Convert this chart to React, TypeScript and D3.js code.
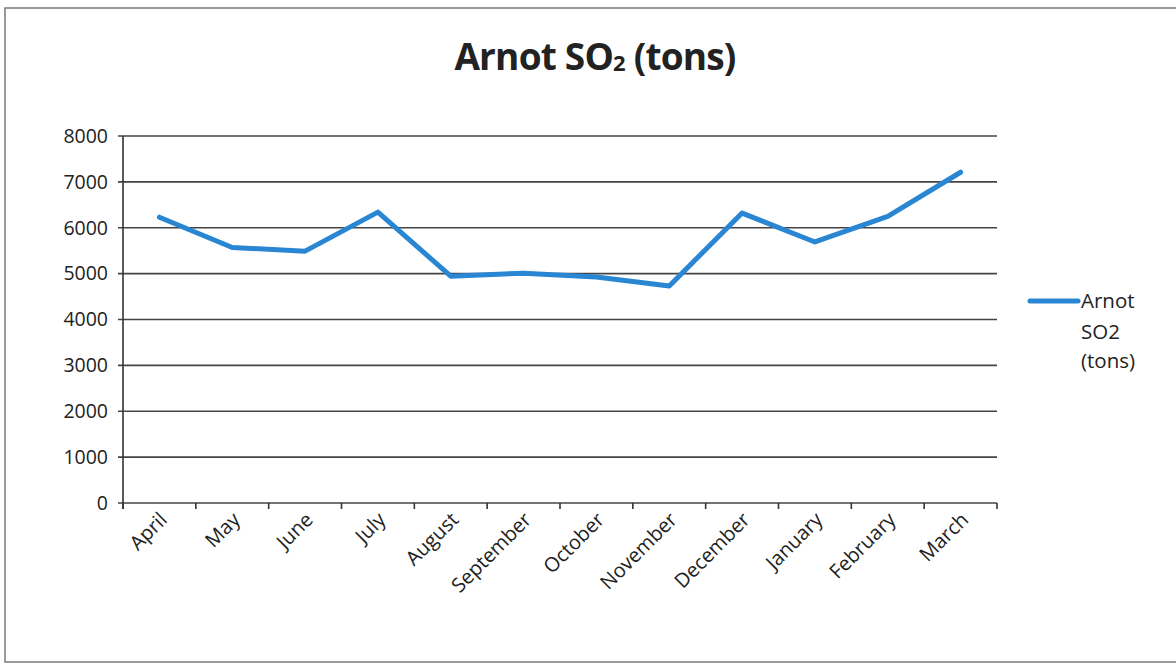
import React from 'react';
import * as d3 from 'd3';

const months = ['April', 'May', 'June', 'July', 'August', 'September', 'October', 'November', 'December', 'January', 'February', 'March'];
const so2Tons = [6230, 5570, 5490, 6340, 4945, 5010, 4925, 4730, 6320, 5690, 6250, 7210];
const yTicks = [0, 1000, 2000, 3000, 4000, 5000, 6000, 7000, 8000];

const W = 1176;
const H = 664;
const plot = { left: 123, right: 997, top: 136, bottom: 503 };
const lineColor = '#2886d2';
const gridColor = '#444';
const font = "'Open Sans', 'Noto Sans', sans-serif";

const App: React.FC = () => {
  const x = d3.scaleBand<string>().domain(months).range([plot.left, plot.right]);
  const y = d3.scaleLinear().domain([0, 8000]).range([plot.bottom, plot.top]);

  const line = d3.line<number>()
    .x((_, i) => (x(months[i]) ?? 0) + x.bandwidth() / 2)
    .y(d => y(d));

  const bounds = months.map(m => x(m) ?? 0).concat([plot.right]);

  return (
    <svg width={W} height={H} style={{ position: 'absolute', left: 0, top: 0, background: '#fff' }}>
      {/* frame */}
      <rect x={5} y={8} width={W + 2} height={654} fill="#fff" stroke="#7a7a7a" strokeWidth={1.5} />

      {/* title */}
      <text x={595} y={70} textAnchor="middle" fontFamily={font} fontWeight="bold" fontSize={37} fill="#222" letterSpacing={-0.8}>
        Arnot SO<tspan fontSize={22} dy={1}>2</tspan><tspan dy={-1}> (tons)</tspan>
      </text>

      {/* gridlines + y ticks */}
      {yTicks.map(t => (
        <g key={t}>
          <line x1={plot.left - 5} x2={plot.right} y1={y(t)} y2={y(t)} stroke={gridColor} strokeWidth={1.6} />
          <text x={108} y={y(t)} dy="0.35em" textAnchor="end" fontFamily={font} fontSize={19.5} fill="#222">{t}</text>
        </g>
      ))}

      {/* y axis */}
      <line x1={plot.left} x2={plot.left} y1={plot.top} y2={plot.bottom + 6} stroke="#333" strokeWidth={1.6} />

      {/* x ticks */}
      {bounds.map((b, i) => (
        <line key={i} x1={b} x2={b} y1={plot.bottom} y2={plot.bottom + 6} stroke="#333" strokeWidth={1.6} />
      ))}

      {/* x labels */}
      {months.map(m => {
        const cx = (x(m) ?? 0) + x.bandwidth() / 2 + 9;
        const cy = plot.bottom + 18;
        return (
          <text key={m} x={cx} y={cy} transform={`rotate(-45 ${cx} ${cy})`} textAnchor="end" fontFamily={font} fontSize={20} fill="#222">
            {m}
          </text>
        );
      })}

      {/* series */}
      <path d={line(so2Tons) ?? ''} fill="none" stroke={lineColor} strokeWidth={5} strokeLinejoin="round" strokeLinecap="round" />

      {/* legend */}
      <line x1={1030} x2={1078} y1={301} y2={301} stroke={lineColor} strokeWidth={5} strokeLinecap="round" />
      <text fontFamily={font} fontSize={20.5} fill="#222">
        <tspan x={1081} y={308}>Arnot</tspan>
        <tspan x={1081} y={339}>SO2</tspan>
        <tspan x={1081} y={368}>(tons)</tspan>
      </text>
    </svg>
  );
};

export default App;
